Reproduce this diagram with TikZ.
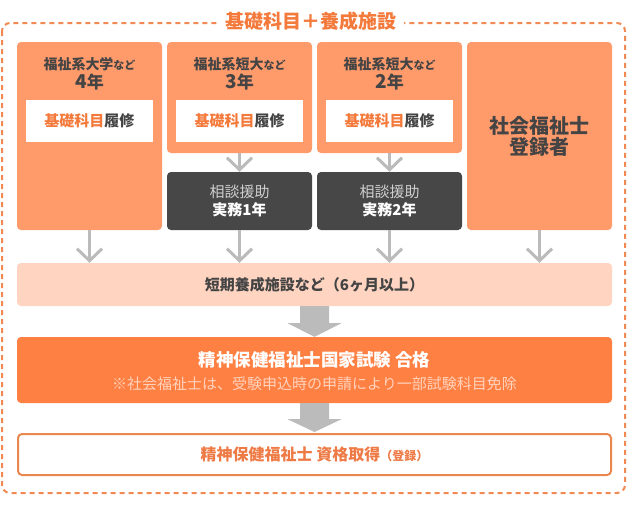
\documentclass[tikz,border=0pt]{standalone}
\usepackage{fontspec}
\setmainfont{Noto Sans CJK JP}
\usetikzlibrary{arrows.meta,calc}
\definecolor{salmon}{HTML}{FF9A6B}
\definecolor{darkbox}{HTML}{474747}
\definecolor{lightrow}{HTML}{FFD5C1}
\definecolor{examorange}{HTML}{FF8043}
\definecolor{titleorange}{HTML}{F47A3C}
\definecolor{dashorange}{HTML}{F08A52}
\definecolor{arrowgray}{HTML}{BBBBBB}
\definecolor{textdark}{HTML}{444444}
\definecolor{subtext}{HTML}{FFD2BC}
\definecolor{finalborder}{HTML}{E8874F}
\definecolor{finaltext}{HTML}{EE7B45}
\newcommand{\fs}[1]{\fontsize{#1}{#1}\selectfont}
\begin{document}
\begin{tikzpicture}[x=1pt,y=-1pt,
  topbox/.style={fill=salmon, rounded corners=4pt, minimum width=145pt, inner sep=0pt},
  darkstep/.style={fill=darkbox, rounded corners=4pt, minimum width=145pt, minimum height=58pt, inner sep=0pt, align=center, text=white},
  whitebox/.style={fill=white, minimum width=127pt, minimum height=42pt, inner sep=0pt, text=textdark, font=\fs{15}\bfseries},
  headtxt/.style={text=textdark, inner sep=0pt, font=\fs{14}\bfseries},
  yeartxt/.style={text=textdark, inner sep=0pt, font=\fs{19}\bfseries},
  widebox/.style={minimum width=595pt, rounded corners=4pt, inner sep=0pt},
  thinarrow/.style={draw=arrowgray, line width=3pt, -{Straight Barb[length=12pt,width=25pt]}},
]
\useasboundingbox (0,0) rectangle (630,506);
% dashed frame
\draw[dashorange, line width=2pt, dash pattern=on 5pt off 4pt, rounded corners=8pt] (2,23) rectangle (625,493);
\node[fill=white, inner xsep=7pt, inner ysep=2pt, text=titleorange, font=\fs{19}\bfseries] (title) at (311,21) {基礎科目＋養成施設};
% top boxes
\node[topbox, minimum height=188pt] (b1) at (89.5,136) {};
\node[topbox, minimum height=111pt] (b2) at (239.5,97.5) {};
\node[topbox, minimum height=111pt] (b3) at (389.5,97.5) {};
\node[topbox, minimum height=188pt, align=center, text=textdark, font=\fs{20}\bfseries] (b4) at (539.5,136) {社会福祉士\\[1pt]登録者};
% headers
\node[headtxt] (h1) at (89.5,64) {福祉系大学{\fs{11}など}};
\node[headtxt] (h2) at (239.5,64) {福祉系短大{\fs{11}など}};
\node[headtxt] (h3) at (389.5,64) {福祉系短大{\fs{11}など}};
\node[yeartxt] (y1) at (89.5,82) {4{\fs{17}年}};
\node[yeartxt] (y2) at (239.5,82) {3{\fs{17}年}};
\node[yeartxt] (y3) at (389.5,82) {2{\fs{17}年}};
% white inner boxes
\node[whitebox] (w1) at (89.5,121) {{\color{titleorange}基礎科目}履修};
\node[whitebox] (w2) at (239.5,121) {{\color{titleorange}基礎科目}履修};
\node[whitebox] (w3) at (389.5,121) {{\color{titleorange}基礎科目}履修};
% dark boxes
\node[darkstep] (d2) at (239.5,201) {{\fs{15}\color[HTML]{CFCFCF}相談援助}\\[3pt]{\fs{15}\bfseries 実務1年}};
\node[darkstep] (d3) at (389.5,201) {{\fs{15}\color[HTML]{CFCFCF}相談援助}\\[3pt]{\fs{15}\bfseries 実務2年}};
% row
\node[widebox, fill=lightrow, minimum height=43pt, text=textdark, font=\fs{15}\bfseries] (row) at (314.5,284.5) {短期養成施設など（6ヶ月以上）};
% exam
\node[widebox, fill=examorange, minimum height=66pt] (exam) at (314.5,370) {};
\node[inner sep=0pt, text=white, font=\fs{17.5}\bfseries] (examt) at (314.5,360) {精神保健福祉士国家試験 合格};
\node[inner sep=0pt, text=subtext, font=\fs{15}] (exams) at (314.5,384) {※社会福祉士は、受験申込時の申請により一部試験科目免除};
% final
\node[widebox, draw=finalborder, line width=2pt, fill=white, minimum width=593pt, minimum height=41pt, text=finaltext, font=\fs{16}\bfseries] (final) at (314.5,454.5) {精神保健福祉士 資格取得{\fs{12}（登録）}};
% thin arrows
\draw[thinarrow] (b2.south) -- (d2.north);
\draw[thinarrow] (b3.south) -- (d3.north);
\draw[thinarrow] (b1.south) -- (b1.south |- row.north);
\draw[thinarrow] (d2.south) -- (d2.south |- row.north);
\draw[thinarrow] (d3.south) -- (d3.south |- row.north);
\draw[thinarrow] (b4.south) -- (b4.south |- row.north);
% block arrows
\fill[arrowgray] ($(row.south)+(-14.5,0)$) -- ++(29,0) -- ++(0,17) -- ++(12.5,0) -- (exam.north) -- ($(row.south)+(-27,17)$) -- ++(12.5,0) -- cycle;
\fill[arrowgray] ($(exam.south)+(-14.5,0)$) -- ++(29,0) -- ++(0,16) -- ++(12.5,0) -- ($(final.north)+(0,-1)$) -- ($(exam.south)+(-27,16)$) -- ++(12.5,0) -- cycle;
\end{tikzpicture}
\end{document}
